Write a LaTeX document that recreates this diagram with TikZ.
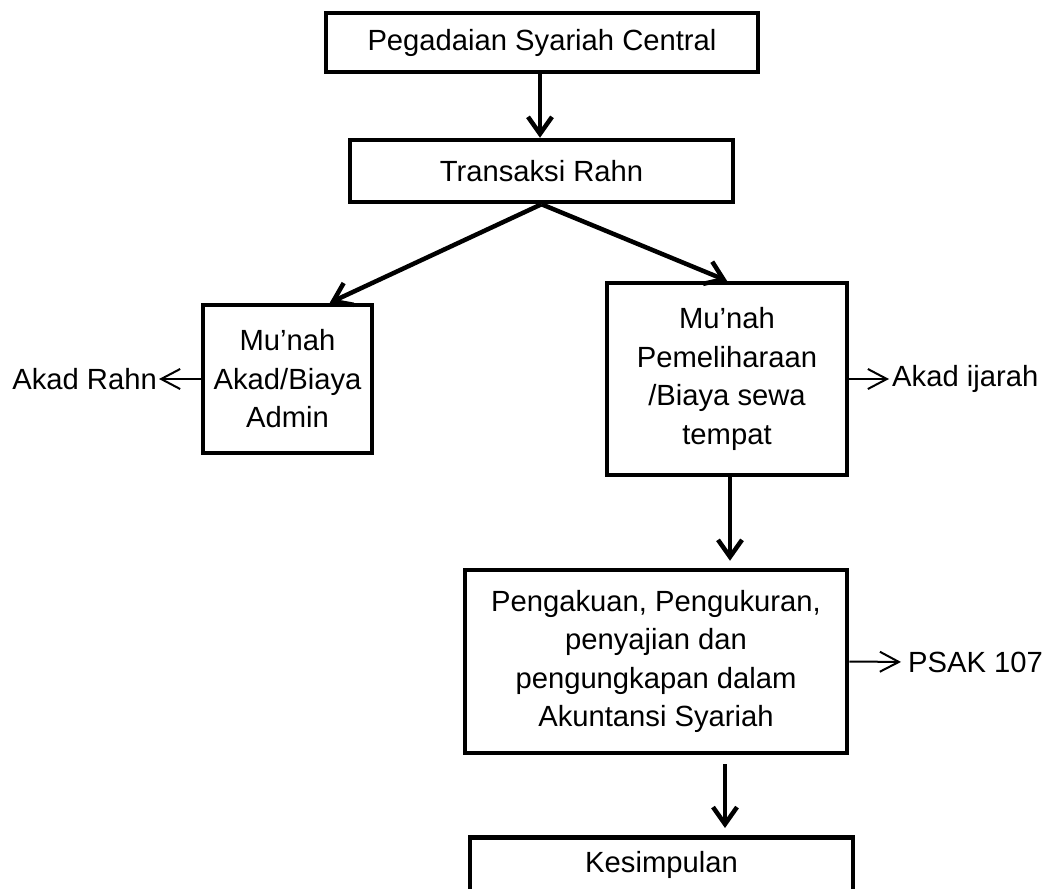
\documentclass[tikz,border=0pt]{standalone}
\usepackage{fontspec}
\setmainfont{Liberation Sans}
\usetikzlibrary{arrows.meta}

\begin{document}
\begin{tikzpicture}[x=1pt, y=-1pt,
    box/.style={draw, line width=4.5pt, align=center, inner sep=0pt,
      font=\fontsize{29.2}{38.5}\selectfont},
    note/.style={inner sep=0pt, font=\fontsize{29.2}{38.5}\selectfont},
    flow/.style={line width=4.5pt,
      -{Straight Barb[length=17pt, width=24pt, line width=4.5pt]}},
    side/.style={line width=2pt,
      -{Straight Barb[length=19pt, width=20pt, line width=2pt]}}]
  \useasboundingbox (0,0) rectangle (1051,888);
  \clip (0,0) rectangle (1051,888);

  % the main column: from the institution down to the transaction
  \node[box, minimum width=432, minimum height=59] (pegadaian) at (542,42.5) {Pegadaian Syariah Central};
  \node[box, minimum width=383, minimum height=62] (rahn) at (541.5,171) {Transaksi Rahn};
  \draw[flow] (540,72) -- (rahn.north -| 540,0);

  % the two kinds of mu'nah, each with its contract beside it
  \node[box, minimum width=169, minimum height=148] (admin) at (287.5,379) {Mu’nah\\Akad/Biaya\\Admin};
  \node[box, minimum width=240, minimum height=192] (sewa) at (727,379) {Mu’nah\\Pemeliharaan\\/Biaya sewa\\tempat};
  \draw[flow] (rahn.south) -- (admin.61);
  \draw[flow] (rahn.south) -- (sewa.north);

  \node[note, anchor=east] (akadrahn) at (157,379) {Akad Rahn};
  \node[note, anchor=west] (ijarah) at (892,379) {Akad ijarah};
  \draw[side, shorten >=2pt] (admin.west) -- (akadrahn.east);
  \draw[side, shorten >=3pt] (sewa.east) -- (ijarah.west);

  % accounting treatment and the conclusion (its lower edge runs off the page)
  \node[box, minimum width=382, minimum height=183] (ukur) at (656,661.5) {Pengakuan, Pengukuran,\\penyajian dan\\pengungkapan dalam\\Akuntansi Syariah};
  \node[note, anchor=west] (psak) at (908,662) {PSAK 107};
  \draw[flow, shorten >=7pt] (sewa.south -| 730,0) -- (ukur.north -| 730,0);
  \draw[side, shorten >=7pt] (ukur.east) -- (psak.west);

  \node[box, anchor=north, minimum width=383, text height=35.5pt, text depth=45pt] (kesimpulan) at (661.5,835) {Kesimpulan};
  \draw[flow, shorten <=9pt, shorten >=7pt] (ukur.south -| 725,0) -- (kesimpulan.north -| 725,0);
\end{tikzpicture}
\end{document}
